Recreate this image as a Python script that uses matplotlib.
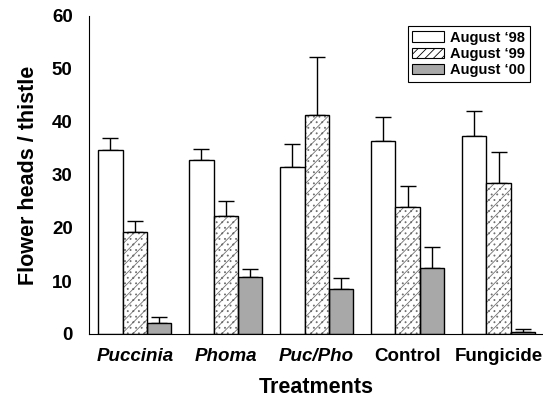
import numpy as np
import matplotlib
matplotlib.use("Agg")
import matplotlib.pyplot as plt
from matplotlib.patches import Patch

plt.rcParams['font.family'] = ['Liberation Sans', 'DejaVu Sans']
plt.rcParams['font.weight'] = 'bold'
plt.rcParams['hatch.linewidth'] = 0.6

treatments = ["Puccinia", "Phoma", "Puc/Pho", "Control", "Fungicide"]
italic = [True, True, True, False, False]
series = ["August \u201898", "August \u201899", "August \u201800"]

aug98 = [34.8, 32.9, 31.6, 36.5, 37.3]
aug99 = [19.3, 22.2, 41.3, 24.0, 28.4]
aug00 = [2.0, 10.7, 8.4, 12.4, 0.4]
err98 = [2.1, 2.0, 4.2, 4.5, 4.8]
err99 = [2.0, 2.8, 11.0, 4.0, 5.9]
err00 = [1.2, 1.6, 2.1, 4.0, 0.5]

fig = plt.figure(figsize=(5.43, 4.0), dpi=100)
ax = fig.add_axes([0.1645, 0.165, 0.835, 0.795])

x = np.arange(len(treatments))
w = 0.268
vals = [aug98, aug99, aug00]
errs = [err98, err99, err00]
faces = ["white", "white", "#a8a8a8"]
hatches = [None, "///...", None]

for i, (v, e, fc, h) in enumerate(zip(vals, errs, faces, hatches)):
    pos = x + (i - 1) * w
    ax.errorbar(pos, v, yerr=[np.zeros(len(e)), e], fmt="none", ecolor="black",
                elinewidth=1, capsize=5.5, capthick=1, zorder=1)
    if h:
        ax.bar(pos, v, w, color=fc, edgecolor="#707070", hatch=h, linewidth=0, zorder=2)
        ax.bar(pos, v, w, fill=False, edgecolor="black", linewidth=1, zorder=3)
    else:
        ax.bar(pos, v, w, color=fc, edgecolor="black", linewidth=1, zorder=2)

ax.set_xlim(-0.5, 4.485)
ax.set_ylim(0, 60)
ax.set_yticks(range(0, 61, 10))
ax.spines['top'].set_visible(False)
ax.spines['right'].set_visible(False)
ax.tick_params(axis='y', length=0, pad=12, labelsize=13.5)
ax.tick_params(axis='x', length=0, pad=10, labelsize=13.5)
ax.set_xticks(x)
ax.set_xticklabels(treatments)
for lab, it in zip(ax.get_xticklabels(), italic):
    lab.set_fontweight('bold')
    if it:
        lab.set_fontstyle('italic')
for lab in ax.get_yticklabels():
    lab.set_fontweight('bold')

ax.set_xlabel("Treatments", fontsize=15.5, fontweight='bold', labelpad=9)
ax.set_ylabel("Flower heads / thistle", fontsize=15.5, fontweight='bold', labelpad=9)

handles = [Patch(facecolor="white", edgecolor="black", linewidth=0.8),
           Patch(facecolor="white", edgecolor="black", hatch="////", linewidth=0.8),
           Patch(facecolor="#a8a8a8", edgecolor="black", linewidth=0.8)]
leg = ax.legend(handles, series, loc="upper right", bbox_to_anchor=(0.987, 0.99),
                fancybox=False, framealpha=1, edgecolor="black",
                prop={'size': 10.5, 'weight': 'bold'}, handlelength=2.2, handleheight=0.75,
                borderpad=0.3, labelspacing=0.15, handletextpad=0.4)
leg.get_frame().set_linewidth(0.8)

fig.savefig("out.png", dpi=100)
